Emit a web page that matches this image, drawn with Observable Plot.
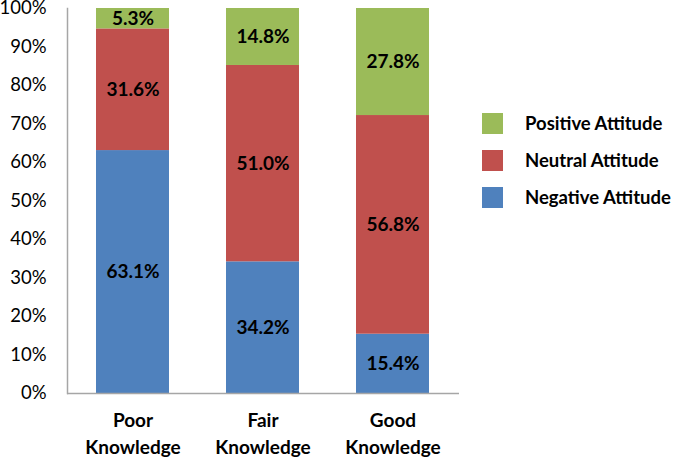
<!DOCTYPE html>
<html>
<head>
<meta charset="utf-8">
<script src="https://cdn.jsdelivr.net/npm/d3@7"></script>
<script src="https://cdn.jsdelivr.net/npm/@observablehq/plot@0.6"></script>
<style>
  html, body { margin: 0; padding: 0; background: #fff; }
  #wrap { position: relative; width: 685px; height: 458px; font-family: Lato, "Open Sans", sans-serif; }
  #legend { position: absolute; left: 482px; top: 113px; }
  .item { display: flex; align-items: center; height: 20px; margin-bottom: 17px; font-weight: bold; font-size: 18.5px; color: #000; white-space: nowrap; }
  .sw { width: 21px; height: 21px; margin-right: 22px; flex: none; }
</style>
</head>
<body>
<div id="wrap"></div>
<script>
const categories = ["Poor Knowledge", "Fair Knowledge", "Good Knowledge"];
const series = ["Negative Attitude", "Neutral Attitude", "Positive Attitude"];
const negative = [63.1, 34.2, 15.4];
const neutral = [31.6, 51.0, 56.8];
const positive = [5.3, 14.8, 27.8];
const yTicks = [0, 10, 20, 30, 40, 50, 60, 70, 80, 90, 100];
const colors = ["#4F81BD", "#C0504D", "#9BBB59"];

const seriesValues = [negative, neutral, positive];
const data = [];
categories.forEach((c, i) => {
  series.forEach((s, j) => data.push({cat: c, attitude: s, value: seriesValues[j][i]}));
});

const chart = Plot.plot({
  width: 685,
  height: 458,
  marginLeft: 67,
  marginRight: 226,
  marginTop: 8,
  marginBottom: 65,
  style: {fontFamily: "Lato, 'Open Sans', sans-serif", background: "#fff"},
  x: {domain: categories, paddingInner: 0.435, paddingOuter: 0.214, axis: null, label: null},
  y: {domain: [0, 100], axis: null, label: null},
  color: {domain: series, range: colors},
  marks: [
    Plot.barY(data, {x: "cat", y: "value", fill: "attitude", z: "attitude", order: series}),
    Plot.text(data, Plot.stackY({x: "cat", y: "value", z: "attitude", order: series, text: d => d.value.toFixed(1) + "%", fontSize: 19, fontWeight: "bold", fill: "#000"})),
    Plot.axisY({ticks: yTicks, tickSize: 0, tickPadding: 21, tickFormat: d => d + "%", fontSize: 18.5, fill: "#000", label: null}),
    Plot.axisX({tickSize: 0, tickPadding: 15, tickFormat: d => d.replace(" ", "\n"), fontSize: 19, fontWeight: "bold", lineHeight: 1.4, fill: "#000", label: null}),
    Plot.ruleY([0], {stroke: "#a6a6a6", strokeWidth: 1.5}),
    Plot.frame({anchor: "left", stroke: "#a6a6a6", strokeWidth: 1.5})
  ]
});
document.getElementById("wrap").appendChild(chart);

const legend = document.createElement("div");
legend.id = "legend";
[2, 1, 0].forEach(j => {
  const it = document.createElement("div");
  it.className = "item";
  const sw = document.createElement("div");
  sw.className = "sw";
  sw.style.background = colors[j];
  it.appendChild(sw);
  it.appendChild(document.createTextNode(series[j]));
  legend.appendChild(it);
});
document.getElementById("wrap").appendChild(legend);
</script>
</body>
</html>
